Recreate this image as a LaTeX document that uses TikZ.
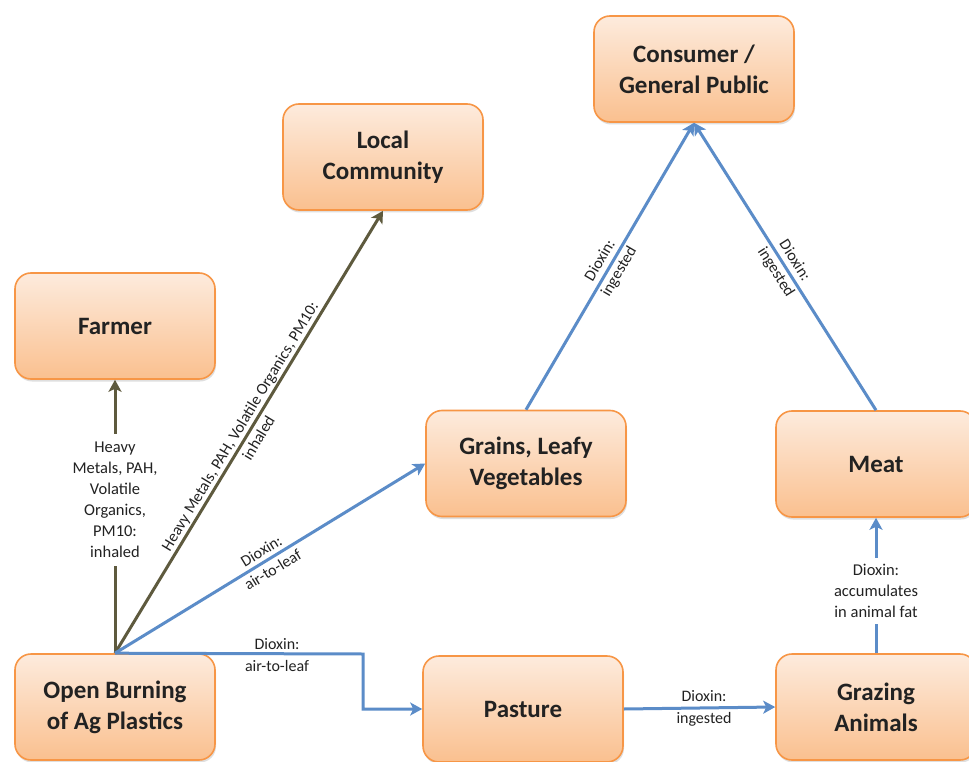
\documentclass[tikz,border=0pt]{standalone}
\usepackage{fontspec}
\setmainfont{Carlito}
\usetikzlibrary{arrows.meta,shadows}
\definecolor{boxline}{HTML}{F79646}
\definecolor{boxtop}{HTML}{FDEBDD}
\definecolor{boxbot}{HTML}{FAC08F}
\definecolor{blueln}{HTML}{5B8CC8}
\definecolor{oliveln}{HTML}{5E5A3E}
\definecolor{txt}{HTML}{222222}
\tikzset{
  box/.style={draw=boxline, line width=1.6pt, rounded corners=16pt,
    top color=boxtop, bottom color=boxbot, minimum width=200pt, minimum height=106pt,
    align=center, text=txt, font=\fontsize{25}{31}\selectfont\bfseries,
    drop shadow={shadow xshift=1pt, shadow yshift=-2.5pt, opacity=0.25}},
  blu/.style={draw=blueln, line width=3pt, -{Stealth[length=12pt,width=13pt,inset=3pt]}},
  oli/.style={draw=oliveln, line width=3pt, -{Stealth[length=12pt,width=13pt,inset=3pt]}},
  lbl/.style={align=center, text=txt, font=\fontsize{16}{22}\selectfont, inner sep=2pt},
  wlbl/.style={lbl, fill=white, inner sep=8pt, font=\fontsize{16.5}{21}\selectfont},
}
\begin{document}
\begin{tikzpicture}[x=1pt,y=-1pt]
\useasboundingbox[fill=white] (0,0) rectangle (969,762);
\node[box] (fa) at (115,326) {Farmer};
\node[box] (lc) at (383,157) {Local\\Community};
\node[box] (co) at (694,69) {Consumer /\\General Public};
\node[box] (gr) at (526,463.5) {Grains, Leafy\\Vegetables};
\node[box] (me) at (876,464) {Meat};
\node[box] (ob) at (115,707) {Open Burning\\of Ag Plastics};
\node[box] (pa) at (523,709) {Pasture};
\node[box] (ga) at (876,707) {Grazing\\Animals};
\coordinate (bend) at (363,654);
% edges
\draw[oli] (ob.north) -- node[wlbl, pos=0.56] (l1) {Heavy\\Metals, PAH,\\Volatile\\Organics,\\PM10:\\inhaled} (fa.south);
\draw[oli] (ob.north) -- node[lbl, sloped] (l2) {Heavy Metals, PAH, Volatile Organics, PM10:\\inhaled} (lc.south);
\draw[blu] (ob.north) -- node[lbl, sloped, pos=0.49] (l3) {Dioxin:\\air-to-leaf} (gr.west);
\draw[blu] (ob.north) -- (bend) |- (pa.west);
\node[lbl] (l4) at (277,655) {Dioxin:\\air-to-leaf};
\draw[blu] (pa.east) -- node[lbl, pos=0.53] (l5) {Dioxin:\\ingested} (ga.west);
\draw[blu] (ga.north) -- node[wlbl, pos=0.46, inner sep=6pt] (l6) {Dioxin:\\accumulates\\in animal fat} (me.south);
\draw[blu] (gr.north) -- node[lbl, sloped] (l7) {Dioxin:\\ingested} (co.south);
\draw[blu] (me.north) -- node[lbl, sloped] (l8) {Dioxin:\\ingested} (co.south);
\end{tikzpicture}
\end{document}
